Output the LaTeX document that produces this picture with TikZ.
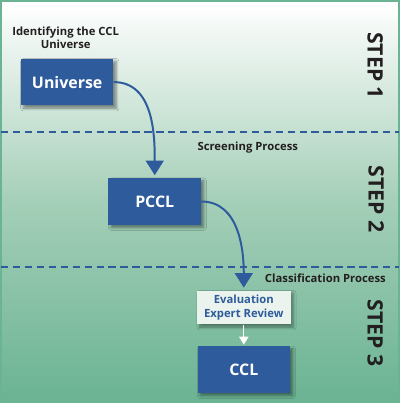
\documentclass[tikz,border=0pt]{standalone}
\usepackage{fontspec}
\setmainfont{Open Sans}
\usepackage{tikz}
\usetikzlibrary{arrows.meta,shadows.blur}

\definecolor{boxblue}{RGB}{46,91,155}
\definecolor{bggreen}{RGB}{106,179,147}
\definecolor{bgmid}{RGB}{165,207,184}
\definecolor{palebox}{RGB}{234,243,237}
\definecolor{inkdark}{RGB}{35,31,32}

\begin{document}
\begin{tikzpicture}[x=0.75pt,y=-0.75pt,
	bluebox/.style={draw=none,fill=boxblue,text=white,font=\fontsize{12}{12}\selectfont\bfseries,
		minimum width=69.75pt,minimum height=35.25pt,
		blur shadow={shadow xshift=2pt,shadow yshift=-2pt,shadow blur steps=6,shadow opacity=45}},
	evalbox/.style={draw=none,fill=palebox,text=boxblue,font=\fontsize{8.5}{10}\selectfont\bfseries,
		align=center,minimum width=70.5pt,minimum height=25.5pt,
		blur shadow={shadow xshift=2pt,shadow yshift=-2pt,shadow blur steps=6,shadow opacity=40}},
	steplabel/.style={rotate=-90,text=inkdark,font=\fontsize{16}{16}\selectfont\bfseries},
	phase/.style={text=inkdark,font=\fontsize{8.5}{10}\selectfont\bfseries,align=center},
	flow/.style={draw=boxblue,line width=1.5pt,-{Triangle[width=13.5pt,length=11pt]},shorten >=2pt},
	divider/.style={draw=boxblue,line width=1.4pt,dash pattern=on 5.5pt off 3.5pt}]

	% background
	\shade[top color=white,bottom color=bgmid] (0,0) rectangle (400,200);
	\shade[top color=bgmid,bottom color=bggreen] (0,200) rectangle (400,403);
	\fill[white,opacity=0.5] (0,3) rectangle (400,18);
	\draw[bggreen,line width=1.5pt] (0,0) rectangle (400,403);

	% step labels
	\node[steplabel] (s1) at (376,65) {STEP 1};
	\node[steplabel] (s2) at (377,199) {STEP 2};
	\node[steplabel] (s3) at (376,334) {STEP 3};

	% dividers
	\coordinate (d1l) at (0,132);
	\coordinate (d1r) at (400,132);
	\coordinate (d2l) at (0,267);
	\coordinate (d2r) at (400,267);
	\draw[divider] (d1l) -- (d1r);
	\draw[divider] (d2l) -- (d2r);

	% phase titles
	\node[phase] (t1) at (65,37) {Identifying the CCL\\Universe};
	\node[phase] (t2) at (248,147) {Screening Process};
	\node[phase] (t3) at (326,279) {Classification Process};

	% boxes
	\node[bluebox] (universe) at (66.5,81.5) {Universe};
	\node[bluebox] (pccl) at (154.5,201.5) {PCCL};
	\node[evalbox] (eval) at (244,308) {Evaluation\\Expert Review};
	\node[bluebox] (ccl) at (244,370.5) {CCL};

	% arrows
	\draw[flow] (universe.east) to[out=0,in=90] (pccl.north);
	\draw[flow] (pccl.east) to[out=0,in=90] (eval.north);
	\draw[white,line width=0.8pt,-{Triangle[width=7pt,length=6pt]},shorten >=1pt] (eval.south) -- (ccl.north);
\end{tikzpicture}
\end{document}
